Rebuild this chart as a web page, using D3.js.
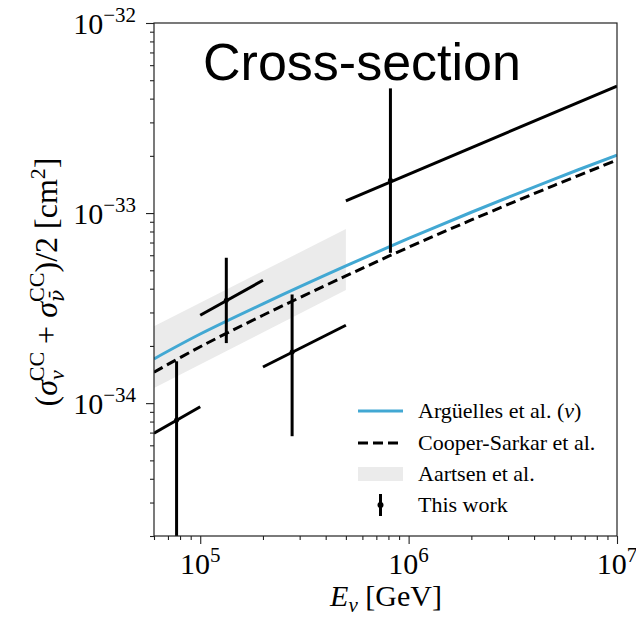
<!DOCTYPE html>
<html>
<head>
<meta charset="utf-8">
<script src="https://cdn.jsdelivr.net/npm/d3@7"></script>
<style>
  body { margin: 0; background: #fff; }
  svg text { font-family: "Liberation Serif", "Times New Roman", serif; fill: #000; }
</style>
</head>
<body>
<div id="chart"></div>
<script>
// energies (GeV) where the model curves are read
var curveE = [6e4, 1e5, 2e5, 5e5, 1e6, 2e6, 5e6, 1e7];
// Arguelles et al. (nu), cm^2
var arguelles = [1.71e-34, 2.31e-34, 3.33e-34, 5.27e-34, 7.35e-34, 1.01e-33, 1.51e-33, 2.02e-33];
// Cooper-Sarkar et al., cm^2
var cooperSarkar = [1.455e-34, 1.98e-34, 2.9e-34, 4.67e-34, 6.61e-34, 9.2e-34, 1.40e-33, 1.9e-33];

// Aartsen et al. band
var bandE = [6e4, 5e5];
var bandLow = [1.2e-34, 3.94e-34];
var bandHigh = [2.54e-34, 8.24e-34];

// This work: centre, vertical error, energy bin with its end values
var pointE = [7.7e4, 1.334e5, 2.76e5, 8.18e5];
var pointSigma = [8.15e-35, 3.48e-34, 1.86e-34, 1.49e-33];
var pointLow = [1e-35, 2.07e-34, 6.7e-35, 6.18e-34];
var pointHigh = [1.66e-34, 5.82e-34, 3.73e-34, 4.53e-33];
var binLo = [6e4, 1e5, 2e5, 5e5];
var binHi = [1e5, 2e5, 5e5, 1e7];
var binSigmaLo = [6.95e-35, 2.9e-34, 1.55e-34, 1.16e-33];
var binSigmaHi = [9.57e-35, 4.43e-34, 2.57e-34, 4.66e-33];

var xMajor = [1e5, 1e6, 1e7];
var yMajor = [1e-34, 1e-33, 1e-32];

var legendLabels = ["Argüelles et al. (", "Cooper-Sarkar et al.", "Aartsen et al.", "This work"];

var svgWidth = 636;
var svgHeight = 617;
var margin = { top: 23, right: 19, bottom: 81, left: 154 };
var width = svgWidth - margin.left - margin.right;
var height = svgHeight - margin.top - margin.bottom;

var blue = "#42a8d3";

var svg = d3.select("#chart").append("svg")
  .attr("width", svgWidth)
  .attr("height", svgHeight);

var chartGroup = svg.append("g")
  .attr("transform", `translate(${margin.left}, ${margin.top})`);

var x = d3.scaleLog().domain([6e4, 1e7]).range([0, width]);
var y = d3.scaleLog().domain([2e-35, 1e-32]).range([height, 0]);

svg.append("defs").append("clipPath").attr("id", "clip")
  .append("rect").attr("width", width).attr("height", height);

var plot = chartGroup.append("g").attr("clip-path", "url(#clip)");

// Aartsen band
var band = bandE.map((e, i) => ({ e: e, lo: bandLow[i], hi: bandHigh[i] }));
plot.append("path")
  .datum(band)
  .attr("fill", "#ebebeb")
  .attr("d", d3.area().x(d => x(d.e)).y0(d => y(d.lo)).y1(d => y(d.hi)));

// model curves
var line = d3.line().x(d => x(d[0])).y(d => y(d[1])).curve(d3.curveCatmullRom.alpha(0.5));

plot.append("path")
  .datum(curveE.map((e, i) => [e, arguelles[i]]))
  .attr("fill", "none")
  .attr("stroke", blue)
  .attr("stroke-width", 3)
  .attr("d", line);

plot.append("path")
  .datum(curveE.map((e, i) => [e, cooperSarkar[i]]))
  .attr("fill", "none")
  .attr("stroke", "#000")
  .attr("stroke-width", 3)
  .attr("stroke-dasharray", "10,5")
  .attr("d", line);

// data points
var points = pointE.map((e, i) => ({
  e: e, s: pointSigma[i], lo: pointLow[i], hi: pointHigh[i],
  b0: binLo[i], b1: binHi[i], s0: binSigmaLo[i], s1: binSigmaHi[i]
}));

var pts = plot.selectAll(".pt").data(points).enter().append("g").attr("class", "pt");
pts.append("line")
  .attr("x1", d => x(d.e)).attr("x2", d => x(d.e))
  .attr("y1", d => y(d.lo)).attr("y2", d => y(d.hi))
  .attr("stroke", "#000").attr("stroke-width", 3);
pts.append("line")
  .attr("x1", d => x(d.b0)).attr("x2", d => x(d.b1))
  .attr("y1", d => y(d.s0)).attr("y2", d => y(d.s1))
  .attr("stroke", "#000").attr("stroke-width", 3);
pts.append("circle")
  .attr("cx", d => x(d.e)).attr("cy", d => y(d.s))
  .attr("r", 2.5).attr("fill", "#000");

// axes: minor ticks first, then majors
function minorTicks(domain) {
  var out = [];
  var a = Math.floor(Math.log10(domain[0])), b = Math.ceil(Math.log10(domain[1]));
  for (var p = a; p < b; p++) {
    for (var k = 2; k <= 9; k++) {
      var v = k * Math.pow(10, p);
      if (v >= domain[0] * 0.999 && v <= domain[1] * 1.001) out.push(v);
    }
  }
  return out;
}

var xMinor = chartGroup.append("g").attr("transform", `translate(0, ${height})`)
  .call(d3.axisBottom(x).tickValues(minorTicks(x.domain())).tickSize(4).tickFormat(""));
var xAxis = chartGroup.append("g").attr("transform", `translate(0, ${height})`)
  .call(d3.axisBottom(x).tickValues(xMajor).tickSize(8).tickFormat(""));
var yMinor = chartGroup.append("g")
  .call(d3.axisLeft(y).tickValues(minorTicks(y.domain())).tickSize(4).tickFormat(""));
var yAxis = chartGroup.append("g")
  .call(d3.axisLeft(y).tickValues(yMajor).tickSize(8).tickFormat(""));

[xMinor, xAxis, yMinor, yAxis].forEach(function(g) {
  g.select(".domain").remove();
  g.selectAll(".tick line").attr("stroke", "#222").attr("stroke-width", 1.1);
});

// frame
chartGroup.append("rect")
  .attr("width", width).attr("height", height)
  .attr("fill", "none").attr("stroke", "#222").attr("stroke-width", 1.2);

// tick labels
xMajor.forEach(function(v) {
  var t = chartGroup.append("text")
    .attr("x", x(v)).attr("y", height + 38)
    .attr("text-anchor", "middle")
    .style("font-size", "30px");
  t.append("tspan").text("10");
  t.append("tspan").attr("dy", -12).style("font-size", "21px").text(Math.round(Math.log10(v)));
});

yMajor.forEach(function(v) {
  var t = chartGroup.append("text")
    .attr("x", -18).attr("y", y(v) + 11)
    .attr("text-anchor", "end")
    .style("font-size", "30px");
  t.append("tspan").text("10");
  t.append("tspan").attr("dy", -12).style("font-size", "21px").text("\u2212" + Math.round(-Math.log10(v)));
});

// axis labels
var xl = svg.append("text")
  .attr("x", 386).attr("y", 606)
  .attr("text-anchor", "middle")
  .style("font-size", "30px");
xl.append("tspan").style("font-style", "italic").text("E");
xl.append("tspan").attr("dy", 6).style("font-size", "21px").style("font-style", "italic").text("\u03bd");
xl.append("tspan").attr("dy", -6).text(" [GeV]");

var yl = svg.append("text")
  .attr("transform", "translate(57, 282) rotate(-90)")
  .attr("text-anchor", "middle")
  .style("font-size", "32px");
yl.append("tspan").text("(");
yl.append("tspan").style("font-style", "italic").text("\u03c3");
yl.append("tspan").attr("dy", 7).style("font-size", "22px").style("font-style", "italic").text("\u03bd");
yl.append("tspan").attr("dx", -11).attr("dy", -20).style("font-size", "22px").text("CC");
yl.append("tspan").attr("dx", 8).attr("dy", 13).text("+");
yl.append("tspan").attr("dx", 8).style("font-style", "italic").text("\u03c3");
yl.append("tspan").attr("dy", 7).style("font-size", "20px").style("font-style", "italic")
  .style("font-family", "'DejaVu Serif', serif").text("\u03bd\u0304");
yl.append("tspan").attr("dx", -12).attr("dy", -20).style("font-size", "22px").text("CC");
yl.append("tspan").attr("dy", 13).text(")/2 [cm");
yl.append("tspan").attr("dy", -12).style("font-size", "22px").text("2");
yl.append("tspan").attr("dy", 12).text("]");

// title
svg.append("text")
  .attr("x", 362).attr("y", 80)
  .attr("text-anchor", "middle")
  .style("font-family", "'Liberation Sans', Arial, sans-serif")
  .style("font-size", "52px")
  .text("Cross-section");

// legend
var legend = svg.append("g").attr("transform", "translate(358, 0)");
var rows = [411, 443, 474, 505];

legend.append("line").attr("x1", 0).attr("x2", 45).attr("y1", rows[0]).attr("y2", rows[0])
  .attr("stroke", blue).attr("stroke-width", 3);
legend.append("line").attr("x1", 0).attr("x2", 45).attr("y1", rows[1]).attr("y2", rows[1])
  .attr("stroke", "#000").attr("stroke-width", 3).attr("stroke-dasharray", "10,5");
legend.append("rect").attr("x", 0).attr("y", rows[2] - 7).attr("width", 45).attr("height", 14)
  .attr("fill", "#ebebeb");
legend.append("line").attr("x1", 22.5).attr("x2", 22.5).attr("y1", rows[3] - 11).attr("y2", rows[3] + 11)
  .attr("stroke", "#000").attr("stroke-width", 3);
legend.append("circle").attr("cx", 22.5).attr("cy", rows[3]).attr("r", 3).attr("fill", "#000");

legendLabels.forEach(function(label, i) {
  var t = legend.append("text")
    .attr("x", 60).attr("y", rows[i] + 7)
    .style("font-size", "22px")
    .text(label);
  if (i === 0) {
    t.append("tspan").style("font-style", "italic").text("\u03bd");
    t.append("tspan").text(")");
  }
});
</script>
</body>
</html>
